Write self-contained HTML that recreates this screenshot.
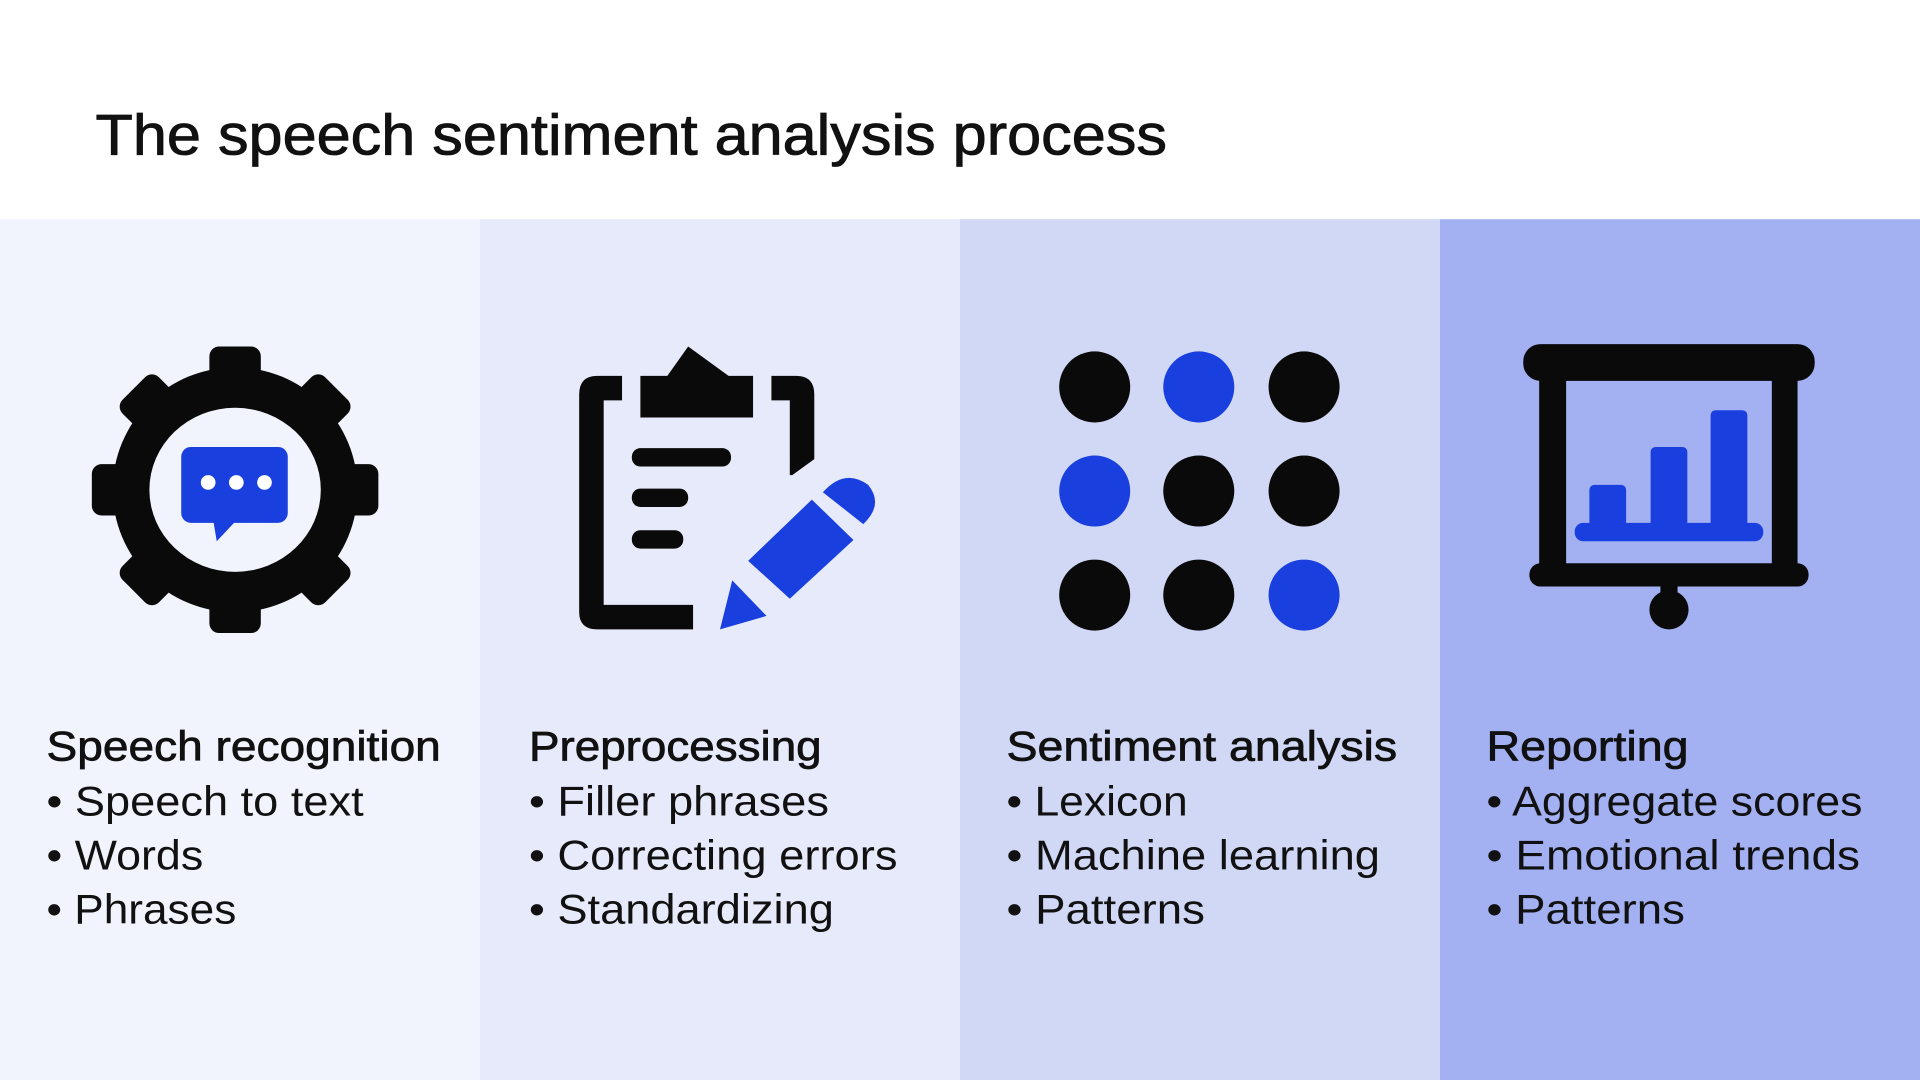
<!DOCTYPE html>
<html><head><meta charset="utf-8"><style>
html,body{margin:0;padding:0;background:#fff;width:1920px;height:1080px;overflow:hidden}
svg{display:block}
text{font-family:"Liberation Sans",sans-serif;fill:#111}
</style></head><body>
<svg width="1920" height="1080" viewBox="0 0 1568 882" xmlns="http://www.w3.org/2000/svg">
<rect width="1568" height="882" fill="#fff"/>
<text x="78" y="126" font-size="47" stroke="#111" stroke-width="0.7" textLength="875" lengthAdjust="spacingAndGlyphs">The speech sentiment analysis process</text>
<rect x="0" y="179" width="392" height="703" fill="#f1f4fd"/>
<rect x="392" y="179" width="392" height="703" fill="#e6eafb"/>
<rect x="784" y="179" width="392" height="703" fill="#d1d8f6"/>
<rect x="1176" y="179" width="392" height="703" fill="#a3b1f2"/>

<!-- Gear -->
<g fill="#0a0a0a">
<circle cx="192" cy="400" r="100"/>
<g>
<rect x="171" y="283" width="42" height="50" rx="8"/>
<rect x="171" y="283" width="42" height="50" rx="8" transform="rotate(45 192 400)"/>
<rect x="171" y="283" width="42" height="50" rx="8" transform="rotate(90 192 400)"/>
<rect x="171" y="283" width="42" height="50" rx="8" transform="rotate(135 192 400)"/>
<rect x="171" y="283" width="42" height="50" rx="8" transform="rotate(180 192 400)"/>
<rect x="171" y="283" width="42" height="50" rx="8" transform="rotate(225 192 400)"/>
<rect x="171" y="283" width="42" height="50" rx="8" transform="rotate(270 192 400)"/>
<rect x="171" y="283" width="42" height="50" rx="8" transform="rotate(315 192 400)"/>
</g>
</g>
<ellipse cx="192" cy="400" rx="70" ry="67" fill="#f1f4fd"/>
<rect x="148" y="365" width="87" height="62" rx="8" fill="#1a3fdf"/>
<polygon points="174,424 194,424 177,442" fill="#1a3fdf"/>
<circle cx="170" cy="394" r="6" fill="#fff"/>
<circle cx="193" cy="394" r="6" fill="#fff"/>
<circle cx="216" cy="394" r="6" fill="#fff"/>

<!-- Clipboard -->
<g fill="#0a0a0a">
<path d="M508 307 L488 307 Q473 307 473 322 L473 500 Q473 514 488 514 L566 514 L566 494 L493 494 L493 327 L508 327 Z"/>
<path d="M630 307 L650 307 Q665 307 665 322 L665 375 L647 388 L645 388 L645 327 L630 327 Z"/>
<polygon points="523,341 523,307 545,307 562,283 595,307 615,307 615,341"/>
<rect x="516" y="366" width="81" height="15" rx="7"/>
<rect x="516" y="399" width="46" height="15" rx="7"/>
<rect x="516" y="433" width="42" height="15" rx="7"/>
</g>
<g fill="#1a3fdf">
<polygon points="611,458 663,408 697,441 645,489"/>
<path d="M672 402 Q690 382 709 396 Q722 412 705 428 Z"/>
<polygon points="598,474 626,503 588,514"/>
</g>

<!-- Dots -->
<g>
<circle cx="894" cy="316" r="29" fill="#0a0a0a"/>
<circle cx="979" cy="316" r="29" fill="#1a3fdf"/>
<circle cx="1065" cy="316" r="29" fill="#0a0a0a"/>
<circle cx="894" cy="401" r="29" fill="#1a3fdf"/>
<circle cx="979" cy="401" r="29" fill="#0a0a0a"/>
<circle cx="1065" cy="401" r="29" fill="#0a0a0a"/>
<circle cx="894" cy="486" r="29" fill="#0a0a0a"/>
<circle cx="979" cy="486" r="29" fill="#0a0a0a"/>
<circle cx="1065" cy="486" r="29" fill="#1a3fdf"/>
</g>

<!-- Projector -->
<g fill="#0a0a0a">
<rect x="1244" y="281" width="238" height="30" rx="14"/>
<rect x="1257" y="305" width="22" height="160"/>
<rect x="1447" y="305" width="21" height="160"/>
<rect x="1249" y="460" width="228" height="19" rx="9"/>
<rect x="1356" y="475" width="14" height="16"/>
<circle cx="1363" cy="498" r="16"/>
</g>
<g fill="#1a3fdf">
<rect x="1298" y="396" width="30" height="40" rx="4"/>
<rect x="1348" y="365" width="30" height="70" rx="4"/>
<rect x="1397" y="335" width="30" height="100" rx="4"/>
<rect x="1286" y="427" width="154" height="15" rx="7"/>
</g>

<!-- Text -->
<g font-size="34">
<text x="38" y="621" stroke="#111" stroke-width="0.6" textLength="322" lengthAdjust="spacingAndGlyphs">Speech recognition</text>
<text x="38" y="666" textLength="259" lengthAdjust="spacingAndGlyphs">• Speech to text</text>
<text x="38" y="710" textLength="128" lengthAdjust="spacingAndGlyphs">• Words</text>
<text x="38" y="754" textLength="155" lengthAdjust="spacingAndGlyphs">• Phrases</text>

<text x="432" y="621" stroke="#111" stroke-width="0.6" textLength="239" lengthAdjust="spacingAndGlyphs">Preprocessing</text>
<text x="432" y="666" textLength="245" lengthAdjust="spacingAndGlyphs">• Filler phrases</text>
<text x="432" y="710" textLength="301" lengthAdjust="spacingAndGlyphs">• Correcting errors</text>
<text x="432" y="754" textLength="249" lengthAdjust="spacingAndGlyphs">• Standardizing</text>

<text x="822" y="621" stroke="#111" stroke-width="0.6" textLength="319" lengthAdjust="spacingAndGlyphs">Sentiment analysis</text>
<text x="822" y="666" textLength="148" lengthAdjust="spacingAndGlyphs">• Lexicon</text>
<text x="822" y="710" textLength="305" lengthAdjust="spacingAndGlyphs">• Machine learning</text>
<text x="822" y="754" textLength="162" lengthAdjust="spacingAndGlyphs">• Patterns</text>

<text x="1214" y="621" stroke="#111" stroke-width="0.6" textLength="165" lengthAdjust="spacingAndGlyphs">Reporting</text>
<text x="1214" y="666" textLength="307" lengthAdjust="spacingAndGlyphs">• Aggregate scores</text>
<text x="1214" y="710" textLength="305" lengthAdjust="spacingAndGlyphs">• Emotional trends</text>
<text x="1214" y="754" textLength="162" lengthAdjust="spacingAndGlyphs">• Patterns</text>
</g>
</svg>
</body></html>
